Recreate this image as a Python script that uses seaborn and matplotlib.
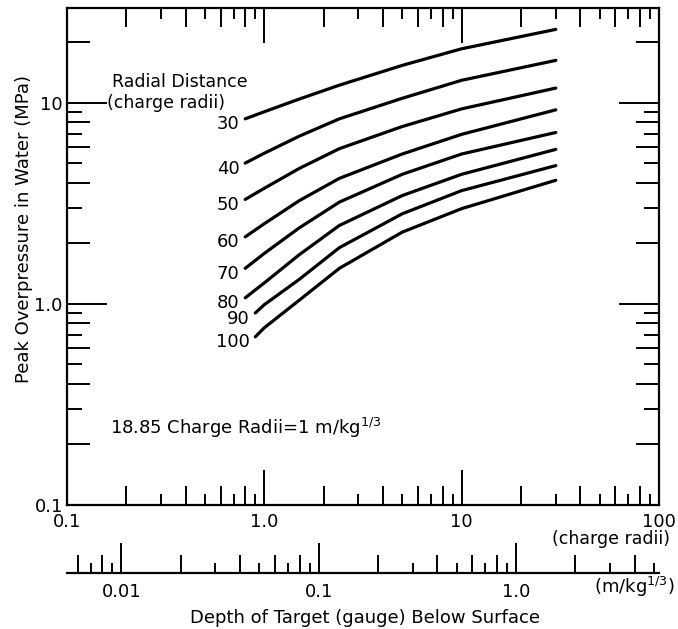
import numpy as np
import pandas as pd
import matplotlib
matplotlib.use("Agg")
import matplotlib.pyplot as plt
import seaborn as sns
from matplotlib.ticker import FixedLocator, FixedFormatter, NullLocator

# ---------------- data ----------------
radii = [30, 40, 50, 60, 70, 80, 90, 100]            # radial distance (charge radii)
depth_near = [0.8, 1.0, 1.5, 2.4, 5.0, 10.0, 30.0]   # depth (charge radii), curves 30-80
depth_far = [0.9, 1.0, 1.5, 2.4, 5.0, 10.0, 30.0]    # depth (charge radii), curves 90-100
p30 = [8.3, 9.0, 10.4, 12.2, 15.3, 18.5, 23.1]
p40 = [5.0, 5.6, 6.8, 8.3, 10.5, 12.9, 16.2]
p50 = [3.3, 3.75, 4.7, 5.9, 7.6, 9.3, 11.8]
p60 = [2.15, 2.5, 3.25, 4.2, 5.55, 6.95, 9.2]
p70 = [1.5, 1.78, 2.38, 3.2, 4.4, 5.55, 7.1]
p80 = [1.07, 1.27, 1.75, 2.45, 3.45, 4.4, 5.85]
p90 = [0.9, 0.99, 1.32, 1.9, 2.8, 3.65, 4.86]
p100 = [0.685, 0.76, 1.04, 1.5, 2.27, 2.97, 4.11]

x_major = [0.1, 1, 10, 100]
x_major_labels = ["0.1", "1.0", "10", "100"]
y_major = [0.1, 1, 10]
y_major_labels = ["0.1", "1.0", "10"]
dep_major = [0.01, 0.1, 1.0]
dep_major_labels = ["0.01", "0.1", "1.0"]
cr_per_m = 18.85   # 18.85 charge radii = 1 m/kg^(1/3)

pressures = [p30, p40, p50, p60, p70, p80, p90, p100]
depths = [depth_near] * 6 + [depth_far] * 2
rows = []
for r, xs, ps in zip(radii, depths, pressures):
    for xv, pv in zip(xs, ps):
        rows.append({"radius": r, "depth": xv, "pressure": pv})
df = pd.DataFrame(rows)

# ---------------- style ----------------
sns.set_style("ticks")
plt.rcParams["font.family"] = ["DejaVu Sans"]
plt.rcParams["mathtext.fontset"] = "dejavusans"
for key in ["text.color", "axes.labelcolor", "xtick.color", "ytick.color",
            "xtick.labelcolor", "ytick.labelcolor", "axes.edgecolor"]:
    plt.rcParams[key] = "black"

fig = plt.figure(figsize=(6.78, 6.29), dpi=100)
ax = fig.add_axes([67 / 678, 1 - 505 / 629, 592 / 678, 497 / 629])

sns.lineplot(data=df, x="depth", y="pressure", units="radius", estimator=None,
             color="black", lw=2.3, sort=True, ax=ax, legend=False,
             solid_capstyle="round", solid_joinstyle="round")

ax.set_xscale("log")
ax.set_yscale("log")
ax.set_xlim(0.1, 100)
ax.set_ylim(0.1, 29.5)
ax.set_xlabel("")
ax.set_ylabel("")

for s in ax.spines.values():
    s.set_visible(True)
    s.set_linewidth(1.6)
    s.set_color("black")

def decade_ticks(lo_exp, hi_exp, mults, vmax):
    out = []
    for e in range(lo_exp, hi_exp + 1):
        for m in mults:
            v = m * 10.0 ** e
            if v <= vmax * 1.0001:
                out.append(round(v, 6))
    return out

x_even = decade_ticks(-1, 1, [2, 4, 6, 8], 100)
x_odd = decade_ticks(-1, 1, [3, 5, 7, 9], 100)
y_even = decade_ticks(-1, 1, [2, 4, 6, 8], 29.5)
y_odd = decade_ticks(-1, 1, [3, 5, 7, 9], 29.5)

ax.xaxis.set_major_locator(FixedLocator(x_major))
ax.xaxis.set_major_formatter(FixedFormatter(x_major_labels))
ax.xaxis.set_minor_locator(FixedLocator(x_even))
ax.yaxis.set_major_locator(FixedLocator(y_major))
ax.yaxis.set_major_formatter(FixedFormatter(y_major_labels))
ax.yaxis.set_minor_locator(FixedLocator(y_even))

ax.tick_params(axis="both", which="both", direction="in", width=1.4, color="black",
               labelcolor="black", top=True, right=True, labelsize=13)
ax.tick_params(axis="x", which="major", length=25, pad=5.5)
ax.tick_params(axis="x", which="minor", length=13.5)
ax.tick_params(axis="y", which="major", length=29, pad=3)
ax.tick_params(axis="y", which="minor", length=16.5)
ax.xaxis.set_minor_formatter(FixedFormatter([]))
ax.yaxis.set_minor_formatter(FixedFormatter([]))

# short (odd) minor ticks on all four sides
for loc in ["bottom", "top"]:
    sec = ax.secondary_xaxis(loc)
    sec.xaxis.set_major_locator(FixedLocator(x_odd))
    sec.xaxis.set_minor_locator(NullLocator())
    sec.tick_params(axis="x", which="major", direction="in", length=8, width=1.4,
                    color="black", labelbottom=False, labeltop=False)
    for s in sec.spines.values():
        s.set_visible(False)
for loc in ["left", "right"]:
    sec = ax.secondary_yaxis(loc)
    sec.yaxis.set_major_locator(FixedLocator(y_odd))
    sec.yaxis.set_minor_locator(NullLocator())
    sec.tick_params(axis="y", which="major", direction="in", length=11, width=1.4,
                    color="black", labelleft=False, labelright=False)
    for s in sec.spines.values():
        s.set_visible(False)

# ---------------- depth axis in m/kg^(1/3) ----------------
to_m = (lambda x: x / cr_per_m, lambda x: x * cr_per_m)
dep_pos = (505 - 573) / 497
dep = ax.secondary_xaxis(dep_pos, functions=to_m)
dep_even = decade_ticks(-3, 0, [2, 4, 6, 8], 5.3)
dep_odd = decade_ticks(-3, 0, [3, 5, 7, 9], 5.3)
dep.xaxis.set_major_locator(FixedLocator(dep_major))
dep.xaxis.set_major_formatter(FixedFormatter(dep_major_labels))
dep.xaxis.set_minor_locator(FixedLocator(dep_even))
dep.xaxis.set_minor_formatter(FixedFormatter([]))
dep.tick_params(axis="x", which="both", direction="in", width=1.4, labelsize=13,
                color="black", labelcolor="black")
dep.tick_params(axis="x", which="major", length=21.5, pad=7)
dep.tick_params(axis="x", which="minor", length=13)
dep.spines["bottom"].set_linewidth(1.6)
dep.spines["bottom"].set_color("black")

dep2 = ax.secondary_xaxis(dep_pos, functions=to_m)
dep2.xaxis.set_major_locator(FixedLocator(dep_odd))
dep2.xaxis.set_minor_locator(NullLocator())
dep2.tick_params(axis="x", which="major", direction="in", length=7.5, width=1.4,
                 color="black", labelbottom=False)
for s in dep2.spines.values():
    s.set_visible(False)

# ---------------- labels / annotations ----------------
ax.set_ylabel("Peak Overpressure in Water (MPa)", fontsize=13, color="black")
ax.yaxis.set_label_coords(-0.058, 0.555)

ax.text((611 - 67) / 592, (505 - 539) / 497, "(charge radii)", transform=ax.transAxes,
        ha="center", va="center", fontsize=12.5)
ax.text((634 - 67) / 592, (505 - 587) / 497, r"(m/kg$^{1/3}$)", transform=ax.transAxes,
        ha="center", va="center", fontsize=13)
ax.text((365 - 67) / 592, (505 - 618) / 497, "Depth of Target (gauge) Below Surface",
        transform=ax.transAxes, ha="center", va="center", fontsize=13)

ax.text((112 - 67) / 592, (505 - 82) / 497, "Radial Distance", transform=ax.transAxes,
        ha="left", va="center", fontsize=12.5)
ax.text((107 - 67) / 592, (505 - 103) / 497, "(charge radii)", transform=ax.transAxes,
        ha="left", va="center", fontsize=12.5)
ax.text((110 - 67) / 592, (505 - 428) / 497, r"18.85 Charge Radii=1 m/kg$^{1/3}$",
        transform=ax.transAxes, ha="left", va="center", fontsize=13)

for r, xs, ps in zip(radii, depths, pressures):
    ax.annotate(str(r), xy=(xs[0], ps[0]), xytext=(-4, -4), textcoords="offset points",
                ha="right", va="center", fontsize=13)

fig.savefig("out.png", dpi=100)
